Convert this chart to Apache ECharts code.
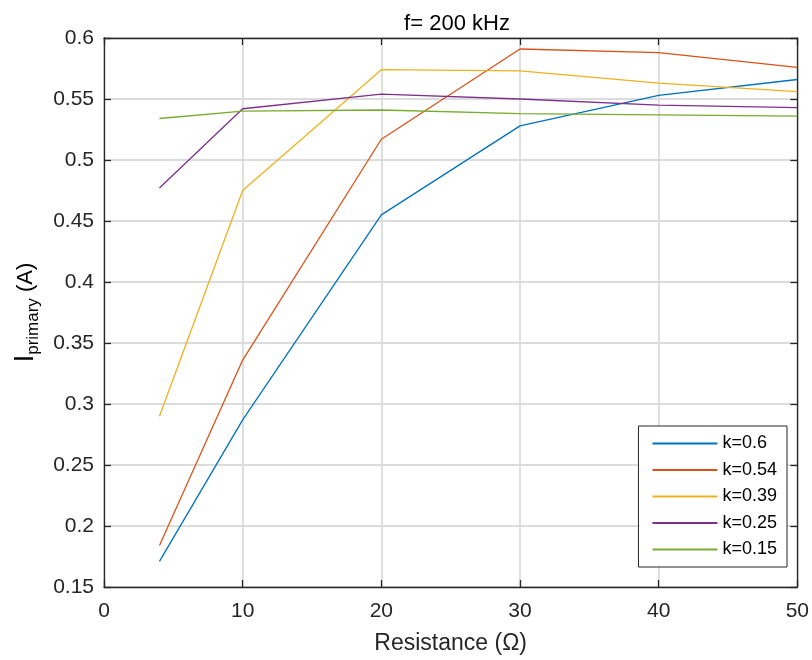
<!DOCTYPE html>
<html>
<head>
<meta charset="utf-8">
<script src="https://cdn.jsdelivr.net/npm/echarts@6/dist/echarts.min.js"></script>
<style>html,body{margin:0;padding:0;background:#fff}#c{width:812px;height:660px}</style>
</head>
<body>
<div id="c"></div>
<script>
const resistance = [4, 10, 20, 30, 40, 50];
const k060 = [0.171, 0.287, 0.455, 0.528, 0.553, 0.566];
const k054 = [0.184, 0.336, 0.517, 0.591, 0.588, 0.576];
const k039 = [0.290, 0.475, 0.574, 0.573, 0.563, 0.556];
const k025 = [0.477, 0.542, 0.554, 0.550, 0.545, 0.543];
const k015 = [0.534, 0.540, 0.541, 0.538, 0.537, 0.536];
const seriesNames = ['k=0.6', 'k=0.54', 'k=0.39', 'k=0.25', 'k=0.15'];
const seriesColors = ['#0072BD', '#D95319', '#EDB120', '#7E2F8E', '#77AC30'];
const seriesValues = [k060, k054, k039, k025, k015];

const font = 'Liberation Sans, Arial, Helvetica, sans-serif';
const axisColor = '#262626';
const chart = echarts.init(document.getElementById('c'), null, {renderer: 'canvas'});

const series = seriesNames.map((n, i) => ({
  name: n,
  type: 'line',
  xAxisIndex: 0,
  yAxisIndex: 0,
  data: resistance.map((x, j) => [x, seriesValues[i][j]]),
  showSymbol: false,
  symbol: 'none',
  lineStyle: {color: seriesColors[i], width: 1.3},
  itemStyle: {color: seriesColors[i]},
  emphasis: {disabled: true},
  animation: false
}));

chart.setOption({
  animation: false,
  backgroundColor: '#fff',
  title: {
    text: 'f= 200 kHz',
    left: 452,
    top: 8,
    textAlign: 'center',
    textStyle: {fontFamily: font, fontSize: 22, fontWeight: 'normal', color: '#000'}
  },
  grid: {left: 104, right: 12, top: 38, bottom: 71, containLabel: false},
  legend: {
    orient: 'vertical',
    right: 25,
    top: 426,
    data: seriesNames.map(n => ({name: n, icon: 'rect'})),
    itemWidth: 65,
    itemHeight: 2,
    itemGap: 5.5,
    padding: [7, 10, 7, 14],
    backgroundColor: '#fff',
    borderColor: axisColor,
    borderWidth: 1,
    textStyle: {fontFamily: font, fontSize: 18, color: '#000', lineHeight: 21}
  },
  xAxis: [{
    type: 'value', min: 0, max: 50, interval: 10,
    position: 'bottom',
    name: 'Resistance (\u03A9)', nameLocation: 'middle', nameGap: 45,
    nameTextStyle: {fontFamily: font, fontSize: 23, color: axisColor},
    axisLine: {show: true, lineStyle: {color: axisColor, width: 1.3}},
    axisTick: {show: true, inside: true, length: 7, lineStyle: {color: axisColor, width: 1.3}},
    axisLabel: {fontFamily: font, fontSize: 21, color: axisColor, margin: 14},
    splitLine: {show: true, lineStyle: {color: '#dcdcdc', width: 1.8}}
  }, {
    type: 'value', min: 0, max: 50, interval: 10,
    position: 'top',
    axisLine: {show: true, onZero: false, lineStyle: {color: axisColor, width: 1.3}},
    axisTick: {show: true, inside: true, length: 7, lineStyle: {color: axisColor, width: 1.3}},
    axisLabel: {show: false},
    splitLine: {show: false}
  }],
  yAxis: [{
    type: 'value', min: 0.15, max: 0.6, interval: 0.05,
    position: 'left',
    name: '{big|I}{sub|primary}{par| (A)}', nameLocation: 'middle', nameGap: 60, nameRotate: 90,
    nameTextStyle: {
      fontFamily: font, color: '#000',
      rich: {
        big: {fontFamily: font, fontSize: 27, color: '#000'},
        sub: {fontFamily: font, fontSize: 17, color: '#000', verticalAlign: 'bottom', padding: [16, 0, 0, 0]},
        par: {fontFamily: font, fontSize: 22, color: '#000'}
      }
    },
    axisLine: {show: true, onZero: false, lineStyle: {color: axisColor, width: 1.3}},
    axisTick: {show: true, inside: true, length: 7, lineStyle: {color: axisColor, width: 1.3}},
    axisLabel: {fontFamily: font, fontSize: 21, color: axisColor, margin: 10},
    splitLine: {show: true, lineStyle: {color: '#dcdcdc', width: 1.8}}
  }, {
    type: 'value', min: 0.15, max: 0.6, interval: 0.05,
    position: 'right',
    axisLine: {show: true, onZero: false, lineStyle: {color: axisColor, width: 1.3}},
    axisTick: {show: true, inside: true, length: 7, lineStyle: {color: axisColor, width: 1.3}},
    axisLabel: {show: false},
    splitLine: {show: false}
  }],
  series: series
});
</script>
</body>
</html>
